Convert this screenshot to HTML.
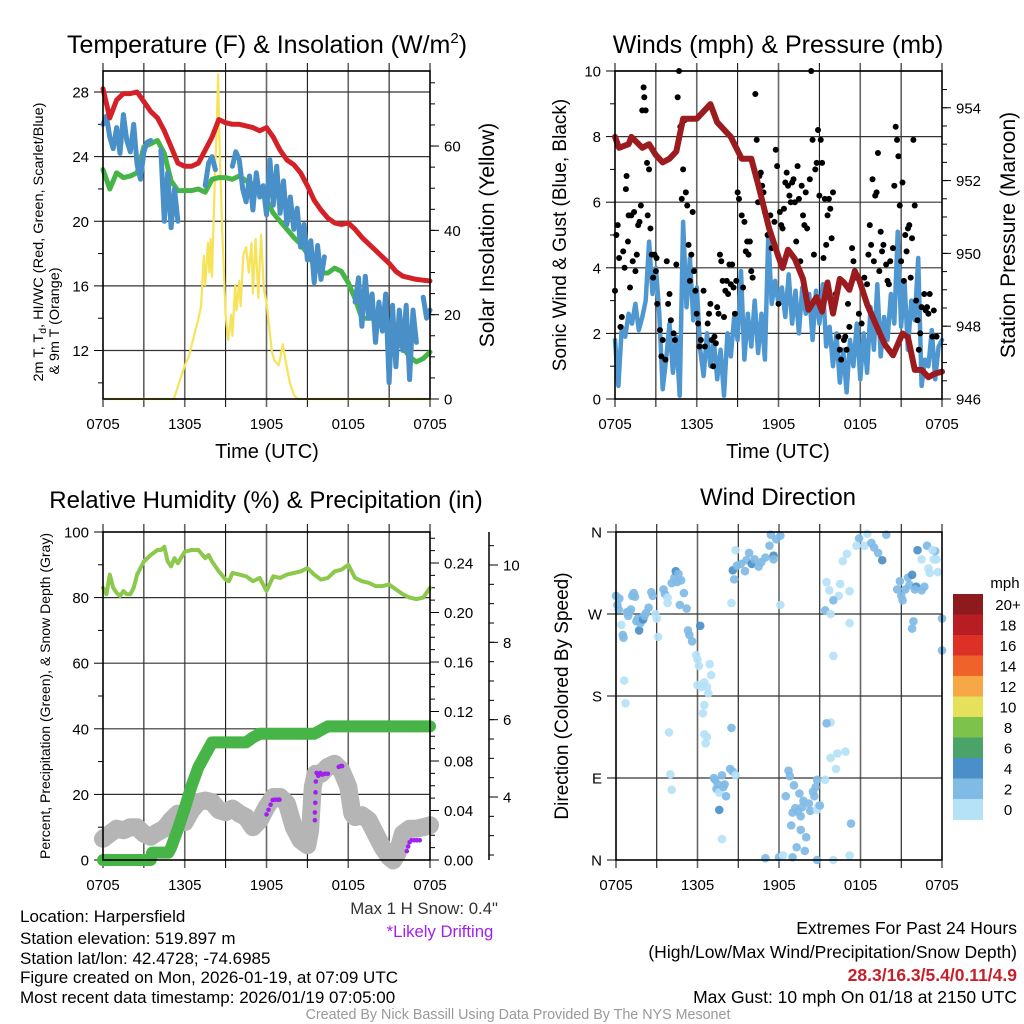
<!DOCTYPE html>
<html><head><meta charset="utf-8">
<style>
html,body{margin:0;padding:0;background:#fff;}
svg{display:block;font-family:"Liberation Sans",sans-serif;}
</style></head>
<body>
<svg id="chart" width="1024" height="1024" viewBox="0 0 1024 1024" xmlns="http://www.w3.org/2000/svg">
<rect x="0" y="0" width="1024" height="1024" fill="#fff"/>
<text x="267" y="53" font-size="25" text-anchor="middle">Temperature (F) &amp; Insolation (W/m<tspan font-size="15" dy="-10">2</tspan><tspan dy="10">)</tspan></text>
<text x="778" y="53" font-size="25" text-anchor="middle">Winds (mph) &amp; Pressure (mb)</text>
<text x="266" y="508" font-size="24" text-anchor="middle">Relative Humidity (%) &amp; Precipitation (in)</text>
<text x="778" y="505" font-size="24" text-anchor="middle">Wind Direction</text>
<text x="267" y="458" font-size="20" text-anchor="middle">Time (UTC)</text>
<text x="778" y="458" font-size="20" text-anchor="middle">Time (UTC)</text>
<text transform="translate(43,242) rotate(-90)" font-size="14" text-anchor="middle" textLength="279" lengthAdjust="spacingAndGlyphs">2m T, T<tspan font-size="10" dy="3">d</tspan><tspan dy="-3">, HI/WC (Red, Green, Scarlet/Blue)</tspan></text>
<text transform="translate(59,321) rotate(-90)" font-size="14" text-anchor="middle" textLength="107" lengthAdjust="spacingAndGlyphs">&amp; 9m T (Orange)</text>
<text transform="translate(494,235) rotate(-90)" font-size="21" text-anchor="middle">Solar Insolation (Yellow)</text>
<text transform="translate(566,235) rotate(-90)" font-size="19" text-anchor="middle">Sonic Wind &amp; Gust (Blue, Black)</text>
<text transform="translate(1015,235) rotate(-90)" font-size="21" text-anchor="middle">Station Pressure (Maroon)</text>
<text transform="translate(50,696) rotate(-90)" font-size="14" text-anchor="middle">Percent, Precipitation (Green), &amp; Snow Depth (Gray)</text>
<text transform="translate(568,696) rotate(-90)" font-size="19" text-anchor="middle">Direction (Colored By Speed)</text>
<text x="498" y="914" font-size="16.8" text-anchor="end" fill="#333">Max 1 H Snow: 0.4"</text>
<text x="440" y="937" font-size="16.7" text-anchor="middle" fill="#a020f0">*Likely Drifting</text>
<g font-size="17">
<text x="20" y="922">Location: Harpersfield</text>
<text x="20" y="944">Station elevation: 519.897 m</text>
<text x="20" y="964">Station lat/lon: 42.4728; -74.6985</text>
<text x="20" y="983">Figure created on Mon, 2026-01-19, at 07:09 UTC</text>
<text x="20" y="1003">Most recent data timestamp: 2026/01/19 07:05:00</text>
</g>
<g font-size="17.5" text-anchor="end">
<text x="1017" y="934">Extremes For Past 24 Hours</text>
<text x="1017" y="958">(High/Low/Max Wind/Precipitation/Snow Depth)</text>
<text x="1017" y="981" fill="#c8202a" font-weight="bold">28.3/16.3/5.4/0.11/4.9</text>
<text x="1017" y="1003">Max Gust: 10 mph On 01/18 at 2150 UTC</text>
</g>
<text x="518" y="1019" font-size="14.3" fill="#999" text-anchor="middle">Created By Nick Bassill Using Data Provided By The NYS Mesonet</text>
</svg>
<script>
// ---------- DATA ----------
const timeTicks = ["0705","1305","1905","0105","0705"];
const redT = [0,0.5,1,1.5,2,2.5,3,3.5,4,4.5,5,5.5,6,6.5,7,7.5,8,8.5,9,9.5,10,10.5,11,11.5,12,12.5,13,13.5,14,14.5,15,15.5,16,16.5,17,17.5,18,18.5,19,19.5,20,20.5,21,21.5,22,22.5,23,23.5,24];
const redV = [28.2,26.4,27.5,27.9,27.9,28.0,27.4,26.8,26.4,25.6,24.6,23.6,23.4,23.4,23.6,24.4,25.2,26.3,26.1,26.0,26.0,25.9,25.8,25.6,25.8,25.2,24.4,23.8,23.5,23.0,22.2,21.3,20.7,20.2,19.9,19.8,19.9,19.5,19.0,18.6,18.2,17.8,17.4,16.9,16.6,16.5,16.4,16.35,16.3];
const greenT = [0,0.5,1,1.5,2,2.5,3,3.5,4,4.5,5,5.5,6,6.5,7,7.5,8,8.5,9,9.5,10,10.5,11,11.5,12,12.5,13,13.5,14,14.5,15,15.5,16,16.5,17,17.5,18,18.5,19,19.5,20,20.5,21,21.5,22,22.5,23,23.5,24];
const greenV = [23.2,22.0,23.0,22.7,22.8,23.0,24.6,24.8,25.0,24.2,22.5,21.9,21.9,21.9,22.0,21.8,22.6,22.7,22.7,22.6,22.8,22.5,22.3,21.8,21.3,20.5,20.0,19.5,19.0,18.6,18.0,17.3,16.8,16.8,17.1,16.9,16.2,15.2,14.0,14.0,14.0,13.9,13.3,12.6,12.2,11.6,11.3,11.5,11.9];
const blueT = [0,0.25,0.5,0.75,1,1.25,1.5,1.75,2,2.25,2.5,2.75,3,3.25,3.5,3.75,4,4.25,4.5,4.75,5,5.25,5.5,5.75,7.5,7.75,8,8.25,8.5,8.75,9,9.5,9.75,10,10.25,10.5,10.75,11,11.25,11.5,11.75,12,12.25,12.5,12.75,13,13.25,13.5,13.75,14,14.25,14.5,14.75,15,15.25,15.5,15.75,16,16.25,16.5,17.25,17.5,17.75,18,18.5,18.75,19,19.25,19.5,19.75,20,20.25,20.5,20.75,21,21.25,21.5,21.75,22,22.25,22.5,22.75,23,23.25,23.5,23.75,24];
const blueV = [26.0,26.5,25.2,24.5,25.8,24.2,26.6,25.0,24.3,26.0,23.5,22.6,24.3,24.9,25.0,null,null,24.4,20.0,23.0,19.6,22.0,20.0,null,22.2,23.6,24.0,23.2,null,21.5,null,23.4,24.3,23.8,22.0,21.2,22.8,20.7,23.0,21.5,22.2,20.4,23.8,21.0,23.4,20.5,22.5,19.8,21.5,19.5,20.8,18.4,19.8,17.6,18.8,16.2,18.5,16.4,17.8,null,17.6,null,17.3,null,15.0,16.5,13.5,16.6,14.0,15.5,12.5,15.0,13.2,15.5,10.0,14.8,11.0,14.5,12.0,14.8,10.2,14.5,12.5,null,15.3,14.0,14.5];
const solarT = [0,5.2,5.5,6,6.3,6.6,7,7.2,7.4,7.5,7.7,7.8,7.9,8,8.2,8.35,8.45,8.55,8.75,9,9.2,9.4,9.5,9.7,9.8,10,10.1,10.3,10.5,10.7,10.9,11,11.2,11.4,11.6,11.8,12,12.4,12.6,12.9,13.2,13.4,13.7,14,14.3,24];
const solarV = [0,0,3,8,10,14,19,22,34,27,37,30,38,29,51,65,77,60,40,20,14,20,15,27,21,28,22,34,36,30,37,25,38,24,39,26,23,11,9,8,13,9,4,1,0,0];
const presT = [0,0.3,1,1.2,2,2.5,3,3.5,4,4.5,5,5.5,6,6.5,7,7.5,8,8.5,9.3,10,10.5,11.3,12,12.3,12.7,13.2,13.8,14.2,14.8,15.2,15.6,16,16.5,16.8,17.2,17.6,17.9,18.5,19.2,19.8,20.4,21.1,21.5,22,22.5,23,23.5,24];
const presV = [953.2,952.9,953.0,953.2,952.9,953.0,952.7,952.5,952.6,952.8,953.7,953.7,953.7,953.9,954.1,953.6,953.4,953.2,952.6,952.6,951.9,950.7,949.9,949.6,950.1,949.85,949.3,948.45,948.8,948.4,949.2,948.35,949.3,949.2,949.0,949.5,949.3,948.6,948.0,947.5,947.2,947.8,947.7,946.8,946.8,946.6,946.7,946.75];
const windV = [1.8,0.4,2.2,1.9,2.6,2.3,2.9,2.1,2.5,3.0,4.8,3.2,4.0,2.6,0.3,1.2,2.3,0.8,1.9,0.1,5.4,2.8,4.3,2.4,3.4,1.5,0.7,2.0,1.0,1.8,0.6,1.5,0.1,2.0,1.3,2.5,1.8,3.9,1.2,2.6,1.6,3.0,1.4,2.6,1.2,5.0,2.9,3.6,2.9,3.4,2.5,3.8,2.3,3.3,2.0,3.4,2.6,3.2,1.8,3.3,2.3,3.5,1.6,2.2,1.0,2.0,0.5,1.5,0.2,1.8,1.0,2.3,0.6,2.0,0.8,2.8,1.5,3.5,1.3,2.5,1.8,3.2,2.3,5.1,2.2,3.6,1.5,3.0,2.4,4.3,0.4,1.2,1.0,2.1,0.6,1.6,1.8];
const gustT = [0,0.1,0.2,0.3,0.4,0.5,0.6,0.7,0.8,0.85,0.95,1.0,1.1,1.2,1.3,1.4,1.5,1.6,1.7,1.8,1.9,2.0,2.1,2.15,2.25,2.35,2.4,2.5,2.6,2.7,2.8,2.9,3.0,3.05,3.1,3.3,3.4,3.5,3.7,3.8,3.9,4.0,4.1,4.3,4.4,4.5,4.6,4.7,4.8,4.9,5.0,5.1,5.2,5.3,5.4,5.5,5.6,5.7,5.8,5.9,6.0,6.1,6.2,6.3,6.5,6.6,6.8,6.9,7.0,7.1,7.2,7.3,7.4,7.5,7.6,7.7,7.8,7.9,8.0,8.1,8.2,8.3,8.4,8.5,8.6,8.7,8.8,8.9,9.0,9.1,9.3,9.4,9.5,9.6,9.7,9.8,9.9,10.0,10.1,10.3,10.4,10.5,10.6,10.7,10.8,10.9,11.0,11.2,11.4,11.5,11.7,11.8,11.9,12.0,12.1,12.2,12.3,12.4,12.5,12.6,12.7,12.8,12.9,13.0,13.1,13.2,13.3,13.4,13.5,13.6,13.7,13.8,13.9,14.0,14.1,14.3,14.4,14.5,14.6,14.7,14.8,14.9,15.0,15.1,15.2,15.3,15.4,15.5,15.6,15.7,15.8,15.9,16.0,16.2,16.4,16.5,16.6,16.8,16.9,17.0,17.1,17.2,17.4,17.5,17.6,17.7,17.9,18.1,18.3,18.5,18.6,18.7,18.8,18.9,19.0,19.1,19.2,19.3,19.4,19.5,19.6,19.7,19.9,20.0,20.1,20.2,20.4,20.5,20.6,20.7,20.8,20.9,21.0,21.1,21.2,21.3,21.4,21.5,21.6,21.7,21.8,21.9,22.0,22.1,22.2,22.3,22.4,22.5,22.7,22.8,22.9,23.0,23.1,23.3,23.4,23.6];
const gustV = [3.3,5.0,5.3,4.3,2.2,2.5,4.5,4.0,6.4,6.8,4.8,5.6,3.4,5.6,4.2,5.7,3.9,4.4,5.3,5.4,5.9,8.8,9.5,9.2,8.8,7.2,5.6,7.0,5.2,4.4,3.7,4.4,3.9,4.3,2.9,2.1,1.3,1.8,1.2,4.2,2.9,3.2,2.4,2.0,1.8,4.1,9.2,10.0,8.3,6.1,7.0,8.5,6.3,5.9,4.7,3.6,4.4,5.7,3.9,3.3,2.6,2.3,1.6,1.8,3.3,1.6,2.3,2.6,2.9,1.8,1.0,1.9,1.7,2.8,2.6,4.4,4.2,3.6,2.5,3.3,3.6,3.2,4.1,3.5,4.1,3.4,2.6,3.6,6.3,6.1,5.6,3.4,5.4,4.5,4.8,4.4,4.8,3.9,3.7,9.3,7.9,6.0,6.8,6.9,6.5,6.3,5.7,5.0,5.6,4.6,5.4,7.6,7.1,2.9,5.7,5.3,5.2,5.8,6.6,6.9,6.5,6.2,6.0,6.6,6.7,6.0,4.8,7.1,6.1,4.2,6.5,5.6,5.3,6.3,5.2,6.7,10.0,7.9,4.4,7.0,7.2,8.2,6.2,7.9,7.2,4.3,6.1,4.7,5.6,6.1,5.8,4.9,6.3,3.2,1.9,1.5,1.2,1.8,1.9,1.5,2.9,2.2,4.6,4.2,3.9,3.7,2.6,2.3,3.7,3.5,4.4,5.3,4.7,6.7,4.2,6.2,6.3,7.5,3.9,5.1,4.5,4.7,4.1,3.6,3.5,4.2,4.6,6.5,8.3,7.9,7.4,5.9,4.2,6.6,3.6,5.0,4.5,5.2,5.3,3.7,4.9,7.9,5.9,3.0,2.4,1.5,2.0,2.8,3.2,2.7,2.8,2.6,3.2,1.9,2.7,1.9];
const rhT = [0,0.25,0.5,0.75,1,1.25,1.5,1.75,2,2.25,2.5,3,3.5,4,4.25,4.5,4.75,5,5.25,5.5,6,6.5,7,7.5,7.75,8,8.5,9,9.25,9.5,10,10.5,11,11.5,12,12.5,13,13.5,14,14.5,15,15.5,16,16.5,17,17.5,18,18.5,19,19.5,20,20.5,21,21.5,22,22.5,23,23.5,24];
const rhV = [83,81,87,83,81.5,80.5,82,81,81,83,87,91,93,94.5,94.5,95.5,91,89.5,92,90.5,94,94.5,94.5,92,93,91,88,85.5,85,87.5,87,86.5,85,86,82,86.5,86,87,87.5,88,89,87,85.5,86,88,88.5,90,86,85,84.5,83.5,83.5,84,82.5,81,80,79.5,80,83];
const precipT = [0,3.5,3.6,4.8,5.0,5.5,6,6.5,7,7.5,7.8,8,10.5,11,11.5,15.5,16,16.5,24];
const precipV = [0,0,0.006,0.006,0.01,0.025,0.042,0.06,0.075,0.085,0.091,0.095,0.095,0.099,0.102,0.102,0.105,0.108,0.108];
const snowT = [0,0.5,1,1.5,2,2.5,3,3.5,4,4.5,5,5.5,6,6.5,7,7.5,8,8.5,9,9.5,10,10.5,11,11.5,12,12.5,13,13.5,14,14.5,15,15.2,15.4,15.6,16,16.5,17,17.5,18,18.3,18.5,19,19.5,20,20.5,21,21.3,21.6,22,22.5,23,23.5,24];
const snowV = [2.92,3.05,3.18,3.14,3.22,3.22,3.05,2.97,3.09,3.18,3.40,3.57,3.35,3.66,3.87,3.91,3.87,3.66,3.61,3.70,3.57,3.48,3.22,3.40,3.74,4.0,4.0,3.83,3.22,2.88,2.75,3.14,4.26,4.60,4.60,4.78,4.86,4.69,4.26,3.57,3.48,3.53,3.40,3.05,2.71,2.45,2.36,2.53,3.05,3.18,3.18,3.22,3.27];
const driftT = [12.0,12.15,12.3,12.45,12.6,12.8,12.95,15.55,15.55,15.58,15.6,15.62,15.68,15.8,15.95,16.1,16.3,16.5,17.3,17.45,17.55,22.3,22.4,22.5,22.65,22.85,23.05,23.25];
const driftV = [3.55,3.67,3.8,3.92,3.93,3.93,3.93,3.4,3.6,3.85,4.12,4.4,4.62,4.55,4.62,4.58,4.6,4.6,4.78,4.8,4.8,2.6,2.72,2.83,2.88,2.88,2.88,2.88];
const dirT = [0,0.1,0.2,0.25,0.4,0.5,0.55,0.6,0.7,0.8,0.9,1.0,1.1,1.2,1.3,1.4,1.5,1.6,1.7,1.8,1.9,2.0,2.1,2.2,2.4,2.6,2.7,2.9,3.0,3.1,3.5,3.6,3.8,3.8,3.9,4.0,4.1,4.1,4.3,4.4,4.5,4.6,4.8,4.7,5.0,5.2,5.3,5.4,5.6,5.9,6.0,6.1,6.2,6.0,6.3,6.5,6.7,6.5,6.8,6.9,7.0,6.4,6.5,6.7,6.6,7.2,7.3,7.4,7.5,7.6,7.8,7.9,8.0,8.1,7.6,7.8,8.5,8.4,8.6,8.8,8.5,8.6,8.7,8.9,9.2,9.5,9.6,9.8,10.0,10.2,10.5,10.7,11.0,11.3,11.4,11.6,11.6,11.8,12.1,8.8,12.0,12.3,11.0,12.7,12.5,12.8,13.0,13.2,13.4,13.1,13.5,13.6,13.8,13.6,12.9,13.9,14.0,14.3,14.5,14.7,14.8,14.9,15.0,14.8,14.2,14.6,13.7,13.3,13.0,14.8,15.0,15.4,15.8,15.8,16.3,16.0,16.9,15.7,16.4,16.5,15.5,17.0,16.7,16.0,17.2,17.2,17.9,17.7,18.3,18.5,18.8,19.0,19.3,19.6,19.9,20.7,20.9,21.0,21.1,21.5,21.8,21.3,21.6,22.1,22.0,22.5,22.7,22.2,22.5,22.9,23.1,23.4,23.6,23.5,23.7,24.0,24.0,23.3,23.0,21.8,21.9,15.4,15.8,16.0,17.3,17.2,15.5,16.2,12.1];
const dirV = [290,280,275,287,258,247,244,197,172,272,268,272,275,290,293,289,262,265,252,260,266,264,268,271,277,294,290,270,265,245,297,292,288,282,140,94,77,304,310,317,305,314,307,280,293,276,252,247,240,225,220,213,257,192,190,195,190,170,183,215,203,161,138,135,128,90,88,78,83,74,93,80,83,70,55,23,145,100,97,93,282,318,308,323,325,317,329,337,325,330,322,327,332,345,357,334,330,352,356,340,3,5,2,98,70,92,52,57,53,82,73,48,65,33,38,10,25,54,75,80,88,59,59,55,62,70,58,14,3,0,60,88,112,151,117,224,119,296,290,303,305,336,328,285,260,295,353,345,345,358,348,343,337,329,357,297,306,290,285,310,313,297,302,300,297,296,300,340,330,345,315,330,330,339,316,265,230,340,320,254,262,274,270,0,40,5,150,100,280];
const dirS = [2.5,2.5,2.5,2,1,2.5,2.5,1,1,2.5,2.5,2.5,2.5,2.5,2.5,2.5,2.5,2.5,4.5,3,3.5,4,3.5,2.5,2.5,2.5,2.5,1,1,1,2.5,2.5,1,1,1,1,1,3,2.5,4.5,3.5,2.5,3,3,2.5,3,2.5,3,2.5,1,1,1,4.5,1,1,1,1,1,1,1,1,1,1,1,1,2.5,2.5,2.5,2.5,1,2.5,2.5,2,2.5,4.5,1,2,2,2.5,1,1,4,2.5,2.5,2.5,2.5,2,2,4,3,2.5,3,2.5,2,2,4,2.5,2.5,2.5,1,2.5,1,2.5,2.5,2.5,2.5,3,2.5,2.5,2.5,2.5,2.5,3.5,3,2.5,2.5,2.5,2.5,2.5,2.5,2.5,1,1,1,2.5,2.5,2.5,2.5,2.5,2.5,2.5,1,1,1,1,1,1,1,1,1,1,1,1,2.5,1,1,2.5,1,1,1,2.5,2.5,3,4.5,2.5,2.5,2.5,2.5,2.5,2.5,4,2.5,2.5,4.5,2.5,2.5,2.5,4,1,2.5,1,1,1,2.5,1,2.5,2.5,1,1,2,2.5,2.5,1,1,2,1,2.5,1,1,1];
const cbLabels = ["20+","18","16","14","12","10","8","6","4","2","0"];
const cbColors = ["#8e1a1b","#b81d24","#dd3127","#ef6229","#f6a847","#e6e15a","#7dc24b","#4aa46a","#4a8fc7","#80bbe5","#b5e2f7"];

// ---------- HELPERS ----------
const NS = "http://www.w3.org/2000/svg";
const svg = document.getElementById('chart');
function mk(tag, a, parent){ const e=document.createElementNS(NS,tag); for(const k in a) e.setAttribute(k,a[k]); (parent||svg).appendChild(e); return e; }
function tx(s, x, y, size, anchor, parent){ const e=mk('text',{x:x,y:y,'font-size':size,'text-anchor':anchor||'middle'},parent); e.textContent=s; return e; }
function linScale(d0,d1,r0,r1){ return v => r0 + (v-d0)/(d1-d0)*(r1-r0); }
function pathFrom(ts, vs, sx, sy){ let d='', pen=false; for(let i=0;i<ts.length;i++){ if(vs[i]===null||vs[i]===undefined){pen=false;continue;} d += (pen?'L':'M') + sx(ts[i]).toFixed(1)+','+sy(vs[i]).toFixed(1); pen=true; } return d; }

const P1={x0:103,x1:430,y0:71,y1:399}, P2={x0:615,x1:942,y0:71,y1:399}, P3={x0:103,x1:430,y0:532,y1:860}, P4={x0:616,x1:942,y0:532,y1:860};

function frame(P, name){
  const g = mk('g',{});
  
  
  const sx = linScale(0,24,P.x0,P.x1);
  for(let h=0; h<=24; h+=3){
    const x = sx(h);
    const major = (h%6===0 && h>0 && h<24);
    const ln = mk('line',{x1:x,x2:x,y1:P.y0-8,y2:P.y1+8,stroke:major?'#666':'#000','stroke-width':major?1.6:1},g);
    
    
  }
  timeTicks.forEach((s,i)=>{
    const t = tx(s, sx(i*6), P.y1+30, 15, 'middle', g);
    
    
  });
  return {g:g, sx:sx};
}
function border(P, name){
  const r = mk('rect',{x:P.x0,y:P.y0,width:P.x1-P.x0,height:P.y1-P.y0,fill:'none',stroke:'#000','stroke-width':1.6});
  
  
}
function yAxis(P, g, sy, majors, minors, labels, side, name, fmt, x){
  const ax = (x!==undefined)?x:(side==='left'?P.x0:P.x1);
  const dir = side==='left'?-1:1;
  minors.forEach(v=>{
    const l = mk('line',{x1:ax,x2:ax+dir*5,y1:sy(v),y2:sy(v),stroke:'#000','stroke-width':1},g);
    
    
  });
  majors.forEach((v,i)=>{
    const l = mk('line',{x1:ax,x2:ax+dir*9,y1:sy(v),y2:sy(v),stroke:'#000','stroke-width':1},g);
    
    
    const t = tx(labels[i], ax+dir*14, sy(v)+5.5, 15, side==='left'?'end':'start', g);
    
    
  });
}
function hgrid(P, g, sy, vals, name){
  vals.forEach(v=>{
    const l = mk('line',{x1:P.x0,x2:P.x1,y1:sy(v),y2:sy(v),stroke:'#333','stroke-width':1.2},g);
    
    
  });
}
function range(a,b,s){ const r=[]; for(let v=a; v<=b+1e-9; v+=s) r.push(+v.toFixed(4)); return r; }

// ---------- PANEL 1: TEMPERATURE ----------
(function(){
  const f = frame(P1,'temperature');
  const sx = f.sx;
  const sy = linScale(9,29.3,P1.y1,P1.y0);
  const sr = linScale(0,77.8,P1.y1,P1.y0);
  hgrid(P1,f.g,sy,[12,16,20,24,28],'temperature');
  yAxis(P1,f.g,sy,[12,16,20,24,28],[10,14,18,22,26],["12","16","20","24","28"],'left','temp-axis');
  yAxis(P1,f.g,sr,[0,20,40,60],range(5,75,5),["0","20","40","60"],'right','insolation-axis');
  const solar = mk('path',{d:pathFrom(solarT,solarV,sx,sr),fill:'none',stroke:'#f7e35a','stroke-width':2.2,'stroke-linejoin':'round'});
  
  
  const green = mk('path',{d:pathFrom(greenT,greenV,sx,sy),fill:'none',stroke:'#46b446','stroke-width':5,'stroke-linejoin':'round','stroke-linecap':'round'});
  
  
  const blue = mk('path',{d:pathFrom(blueT,blueV,sx,sy),fill:'none',stroke:'#4a90c8','stroke-width':5,'stroke-linejoin':'round','stroke-linecap':'round'});
  
  
  const red = mk('path',{d:pathFrom(redT,redV,sx,sy),fill:'none',stroke:'#d42127','stroke-width':5,'stroke-linejoin':'round','stroke-linecap':'round'});
  
  
  border(P1,'temperature');
})();

// ---------- PANEL 2: WINDS ----------
(function(){
  const f = frame(P2,'winds');
  const sx = f.sx;
  const sy = linScale(0,10,P2.y1,P2.y0);
  const sp = linScale(946,955.01,P2.y1,P2.y0);
  hgrid(P2,f.g,sy,[2,4,6,8,10],'winds');
  yAxis(P2,f.g,sy,[0,2,4,6,8,10],[1,3,5,7,9],["0","2","4","6","8","10"],'left','wind-axis');
  yAxis(P2,f.g,sp,[946,948,950,952,954],range(946.5,954.5,0.5),["946","948","950","952","954"],'right','pressure-axis');
  const wT = windV.map((v,i)=> i*24/(windV.length-1));
  const w = mk('path',{d:pathFrom(wT,windV,sx,sy),fill:'none',stroke:'#4f97d1','stroke-width':4.5,'stroke-linejoin':'round','stroke-linecap':'round'});
  
  
  gustT.forEach((t,i)=>{
    const c = mk('circle',{cx:sx(t),cy:sy(gustV[i]),r:3,fill:'#000'});
    
    
  });
  const p = mk('path',{d:pathFrom(presT,presV,sx,sp),fill:'none',stroke:'#9b1b1e','stroke-width':6,'stroke-linejoin':'round','stroke-linecap':'round'});
  
  
  border(P2,'winds');
})();

// ---------- PANEL 3: HUMIDITY ----------
(function(){
  const f = frame(P3,'humidity');
  const sx = f.sx;
  const sy = linScale(0,100,P3.y1,P3.y0);
  const spr = linScale(0,0.24,P3.y1,563);
  const ssn = linScale(4,10,797,565);
  hgrid(P3,f.g,sy,[20,40,60,80],'humidity');
  yAxis(P3,f.g,sy,[0,20,40,60,80,100],[10,30,50,70,90],["0","20","40","60","80","100"],'left','humidity-axis');
  yAxis(P3,f.g,spr,[0,0.04,0.08,0.12,0.16,0.2,0.24],range(0.01,0.26,0.01),["0.00","0.04","0.08","0.12","0.16","0.20","0.24"],'right','precip-axis');
  const snowAxis = mk('line',{x1:489,x2:489,y1:P3.y0,y2:P3.y1,stroke:'#000','stroke-width':1.5},f.g);
  
  
  yAxis(P3,f.g,ssn,[4,6,8,10],range(2.5,10.5,0.5),["4","6","8","10"],'right','snow-axis',null,489);
  const snow = mk('path',{d:pathFrom(snowT,snowV,sx,ssn),fill:'none',stroke:'#b5b5b5','stroke-width':18,'stroke-linejoin':'round','stroke-linecap':'round'});
  
  
  driftT.forEach((t,i)=>{
    const c = mk('circle',{cx:sx(t),cy:ssn(driftV[i]),r:2.3,fill:'#a020f0'});
    
    
  });
  const pr = mk('path',{d:pathFrom(precipT,precipV,sx,spr),fill:'none',stroke:'#46b446','stroke-width':12,'stroke-linejoin':'round','stroke-linecap':'round'});
  
  
  const rh = mk('path',{d:pathFrom(rhT,rhV,sx,sy),fill:'none',stroke:'#8cc84b','stroke-width':4,'stroke-linejoin':'round','stroke-linecap':'round'});
  
  
  border(P3,'humidity');
})();

// ---------- PANEL 4: WIND DIRECTION ----------
(function(){
  const f = frame(P4,'direction');
  const sx = f.sx;
  const sy = linScale(0,360,P4.y1,P4.y0);
  hgrid(P4,f.g,sy,[90,180,270],'direction');
  yAxis(P4,f.g,sy,[0,90,180,270,360],[],["N","E","S","W","N"],'left','direction-axis');
  function col(s){ const i = Math.min(10, Math.floor(s/2)); return cbColors[10-i]; }
  dirT.forEach((t,i)=>{
    const c = mk('circle',{cx:sx(t),cy:sy(dirV[i]),r:4.3,fill:col(dirS[i]),'fill-opacity':0.92});
    
    
  });
  border(P4,'direction');
  const cb = mk('g',{});
  
  
  const top=594, h=20.5;
  cbColors.forEach((c,i)=>{
    const r = mk('rect',{x:953,y:top+i*h,width:30,height:h+0.5,fill:c},cb);
    
    
    const t = tx(cbLabels[i], 1008, top+i*h+h/2+5.5, 15, 'middle', cb);
    
    
  });
  const u = tx('mph', 1005, 588, 15, 'middle', cb);
  
  
})();
</script>
</body></html>
